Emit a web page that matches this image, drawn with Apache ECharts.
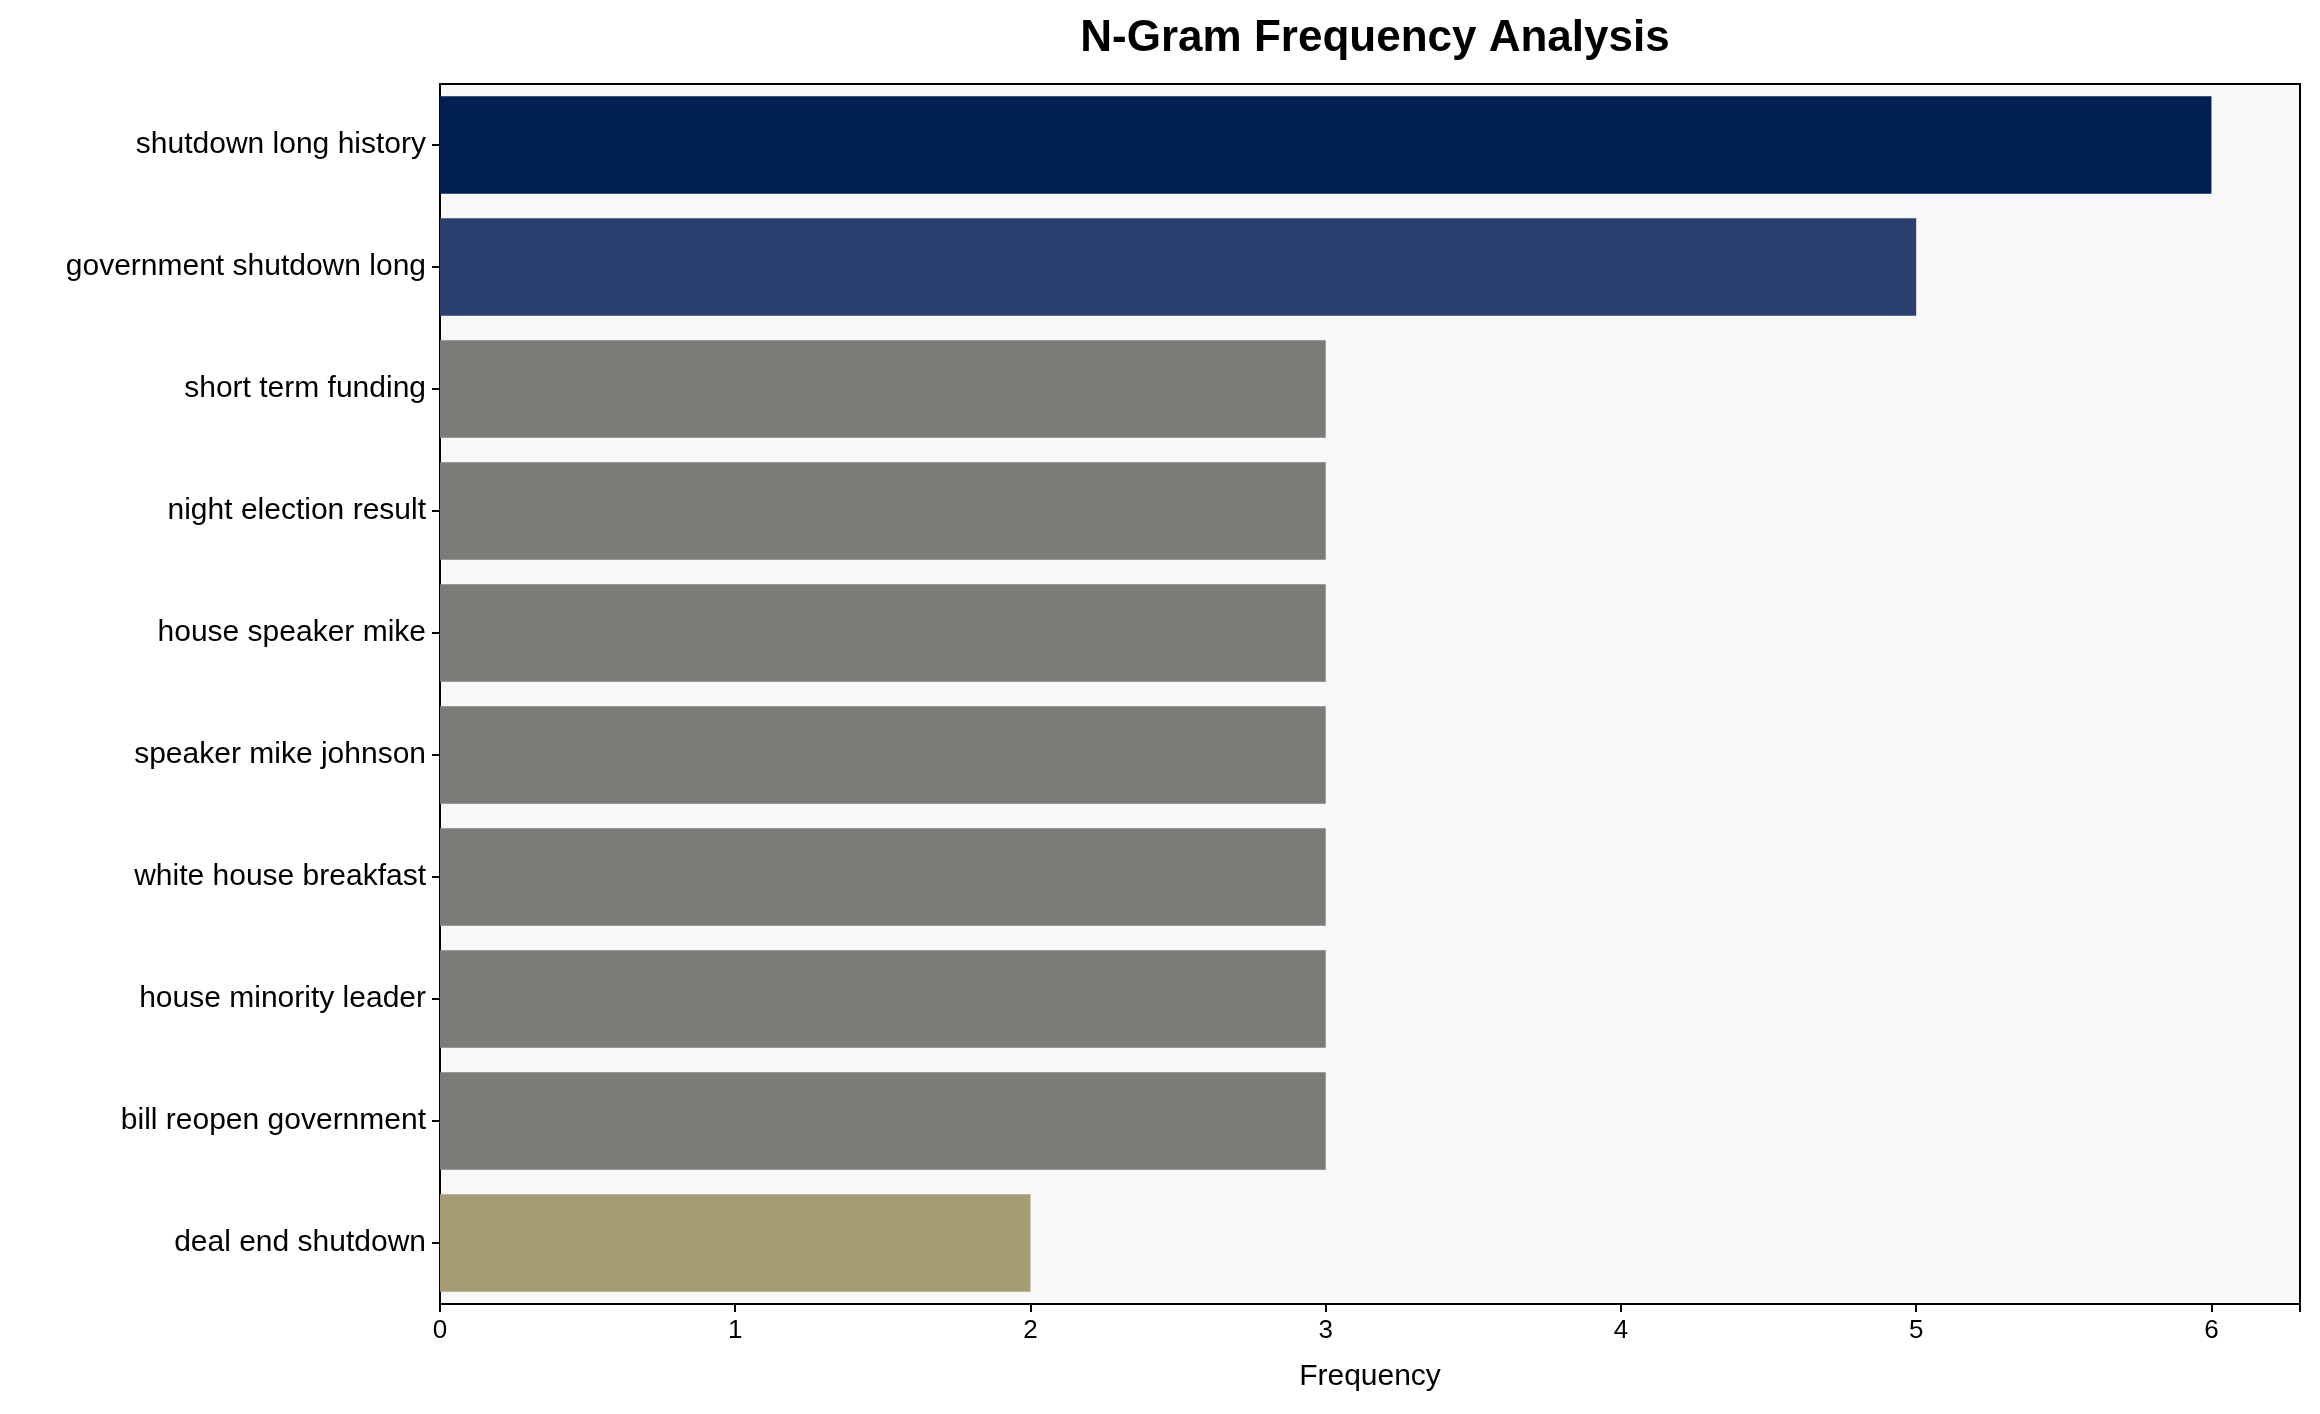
<!DOCTYPE html>
<html><head><meta charset="utf-8">
<script src="https://cdn.jsdelivr.net/npm/echarts@6/dist/echarts.min.js"></script>
<style>html,body{margin:0;padding:0;background:#fff}#c{width:2320px;height:1414px}</style>
</head><body><div id="c"></div>
<script>
const categories = ["shutdown long history","government shutdown long","short term funding","night election result","house speaker mike","speaker mike johnson","white house breakfast","house minority leader","bill reopen government","deal end shutdown"];
const values = [6,5,3,3,3,3,3,3,3,2];
const colors = ["#002051","#2b3f6e","#7c7b78","#7c7b78","#7c7b78","#7c7b78","#7c7b78","#7c7b78","#7c7b78","#a59c74"];
const chart = echarts.init(document.getElementById('c'));
const font = 'Arial, "Liberation Sans", sans-serif';
chart.setOption({
  animation:false,
  title:{text:'N-Gram Frequency Analysis',left:1370,top:12,textAlign:'center',textStyle:{fontFamily:font,fontSize:44,fontWeight:'bold',color:'#000'}},
  grid:{left:440,right:20,top:84,bottom:110,backgroundColor:'#f8f8f8',show:true,borderColor:'#000',borderWidth:2},
  xAxis:{type:'value',min:0,max:6.3,interval:1,name:'Frequency',nameLocation:'middle',nameGap:58,
    nameTextStyle:{fontFamily:font,fontSize:30,color:'#000'},
    axisLabel:{fontFamily:font,fontSize:26,color:'#000',margin:14,formatter:v=>Number.isInteger(v)?v:''},
    axisLine:{show:true,lineStyle:{color:'#000',width:2}},axisTick:{show:true,length:8,lineStyle:{color:'#000',width:2}},splitLine:{show:false}},
  yAxis:{type:'category',data:categories,inverse:true,
    axisLabel:{fontFamily:font,fontSize:30,color:'#000',margin:14},
    axisLine:{show:true,lineStyle:{color:'#000',width:2}},axisTick:{show:true,length:8,alignWithLabel:true,lineStyle:{color:'#000',width:2}}},
  series:[{type:'bar',barCategoryGap:'20%',data:values.map((v,i)=>({value:v,itemStyle:{color:colors[i]}}))}]
});
</script></body></html>
